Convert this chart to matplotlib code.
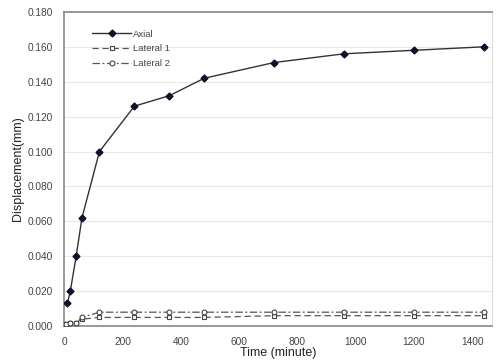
import matplotlib
matplotlib.use("Agg")
import matplotlib.pyplot as plt

time_min = [10, 20, 40, 60, 120, 240, 360, 480, 720, 960, 1200, 1440]
axial = [0.013, 0.020, 0.040, 0.062, 0.100, 0.126, 0.132, 0.142, 0.151, 0.156, 0.158, 0.160]
lat_time = [5, 20, 40, 60, 120, 240, 360, 480, 720, 960, 1200, 1440]
lateral1 = [0.001, 0.002, 0.002, 0.004, 0.005, 0.005, 0.005, 0.005, 0.006, 0.006, 0.006, 0.006]
lateral2 = [0.001, 0.002, 0.002, 0.005, 0.008, 0.008, 0.008, 0.008, 0.008, 0.008, 0.008, 0.008]
yticks = [0.0, 0.02, 0.04, 0.06, 0.08, 0.10, 0.12, 0.14, 0.16, 0.18]
xticks = [0, 200, 400, 600, 800, 1000, 1200, 1400]

plt.rcParams['font.family'] = ['Liberation Sans', 'DejaVu Sans']

fig = plt.figure(figsize=(4.96, 3.6), dpi=100)
ax = fig.add_axes([0.130, 0.094, 0.862, 0.873])

ax.plot(time_min, axial, color='#333333', lw=1.0, marker='D', ms=3.5,
        mfc='#10102a', mec='#10102a', label='Axial', zorder=3)
ax.plot(lat_time, lateral1, color='#555555', lw=0.9, ls=(0, (5, 3)), marker='s', ms=3.5,
        mfc='white', mec='#444444', mew=0.8, label='Lateral 1', zorder=3)
ax.plot(lat_time, lateral2, color='#555555', lw=0.9, ls=(0, (6, 2, 1.5, 2)), marker='o', ms=3.5,
        mfc='white', mec='#444444', mew=0.8, label='Lateral 2', zorder=3)

ax.set_xlim(0, 1468)
ax.set_ylim(0, 0.18)
ax.set_xticks(xticks)
ax.set_yticks(yticks)
ax.set_yticklabels([f"{v:.3f}" for v in yticks])
ax.tick_params(axis='both', labelsize=7.3, colors='#444444', length=0)
ax.tick_params(axis='y', pad=8)
ax.tick_params(axis='x', pad=8)
ax.yaxis.grid(True, color='#e8e8e8', lw=0.8)
ax.set_axisbelow(True)
for side in ['left', 'bottom', 'top']:
    ax.spines[side].set_color('#888888')
    ax.spines[side].set_linewidth(1.2)
ax.spines['right'].set_color('#dddddd')
ax.spines['right'].set_linewidth(0.8)

ax.set_xlabel('Time (minute)', fontsize=9, color='#222222', labelpad=0)
ax.set_ylabel('Displacement(mm)', fontsize=9, color='#222222', labelpad=3)

leg = ax.legend(loc='upper left', bbox_to_anchor=(0.055, 0.955), fontsize=6.8, frameon=False,
                handlelength=4.2, handletextpad=0.2, labelspacing=0.6, borderaxespad=0)
for t in leg.get_texts():
    t.set_color('#444444')

fig.savefig('out.png', dpi=100)
